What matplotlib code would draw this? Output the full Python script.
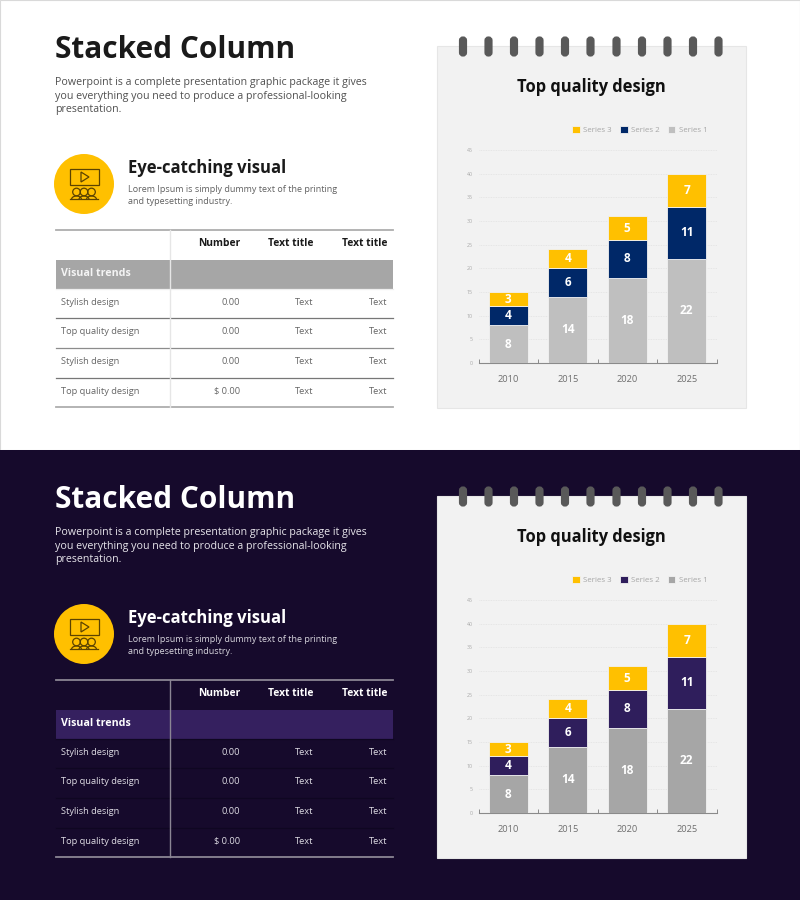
import matplotlib
matplotlib.use("Agg")
import matplotlib.pyplot as plt
from matplotlib.patches import Rectangle, Circle, FancyBboxPatch, Polygon, Arc

plt.rcParams["font.family"] = ["Open Sans", "DejaVu Sans"]

years = ["2010", "2015", "2020", "2025"]
series1 = [8, 14, 18, 22]
series2 = [4, 6, 8, 11]
series3 = [3, 4, 5, 7]
yTicks = [0, 5, 10, 15, 20, 25, 30, 35, 40, 45]

tableHeaders = ["Number", "Text title", "Text title"]
rowNames = ["Stylish design", "Top quality design", "Stylish design", "Top quality design"]
rowNumbers = ["0.00", "0.00", "0.00", "$ 0.00"]
rowText = ["Text", "Text", "Text", "Text"]
ringX = [463, 488.5, 514, 539.5, 565, 590.5, 616.5, 642, 667.5, 693, 718.5]

lightTheme = {
    "bg": "#ffffff", "title": "#1a1a1a", "body": "#505050", "small": "#606060",
    "rowText": "#666666", "band": "#a6a6a6", "bandText": "#f4f4f4",
    "outer": "#aeaeae", "inner": ["#eeeeee", "#777777", "#8c8c8c", "#777777"],
    "vline": "#e6e6e6", "colors": ["#bfbfbf", "#002868", "#ffc000"],
}
darkTheme = {
    "bg": "#160a2c", "title": "#ffffff", "body": "#e6e4ea", "small": "#d8d6de",
    "rowText": "#dedce4", "band": "#35205f", "bandText": "#ffffff",
    "outer": "#8b8694", "inner": ["#0f0722", "#0f0722", "#0f0722", "#0f0722"],
    "vline": "#8b8694", "colors": ["#a6a6a6", "#2f1e5c", "#ffc000"],
}


def drawIcon(ax, off):
    ink = "#5c4300"
    ax.add_patch(Circle((84, 184 + off), 30, fc="#ffc000", ec="none"))
    ax.add_patch(Rectangle((69.5, 169 + off), 29, 16, fc="none", ec=ink, lw=0.9))
    ax.add_patch(Polygon([(81, 172 + off), (81, 182 + off), (89, 177 + off)], fc="none", ec=ink, lw=0.9))
    for cx in [76.5, 84, 91.5]:
        ax.add_patch(Circle((cx, 192 + off), 3.8, fc="none", ec=ink, lw=0.9))
        ax.add_patch(Arc((cx, 199.5 + off), 10, 7, theta1=180, theta2=360, ec=ink, lw=0.9))
    ax.plot([70, 98], [198.5 + off, 198.5 + off], color=ink, lw=0.9)


def drawTable(ax, off, th):
    ax.add_patch(Rectangle((56, 259.5 + off), 337, 29, fc=th["band"], ec="none"))
    ax.plot([56, 393], [230 + off, 230 + off], color=th["outer"], lw=1.3)
    ax.plot([56, 393], [407 + off, 407 + off], color=th["outer"], lw=1.3)
    lineY = [288.5, 318, 347.5, 377.5]
    for yy, col in zip(lineY, th["inner"]):
        ax.plot([56, 393], [yy + off, yy + off], color=col, lw=0.9)
    ax.plot([170, 170], [230 + off, 407 + off], color=th["vline"], lw=1.0)

    headX = [240, 313, 388]
    for hx, label in zip(headX, tableHeaders):
        ax.text(hx, 243.5 + off, label, ha="right", va="center", fontsize=7.4, fontweight="bold", color=th["title"])
    ax.text(61, 273 + off, "Visual trends", ha="left", va="center", fontsize=7.7, fontweight="bold", color=th["bandText"])

    rowY = [302.5, 332, 361.5, 391.5]
    for yy, name, num, txt in zip(rowY, rowNames, rowNumbers, rowText):
        ax.text(61, yy + off, name, ha="left", va="center", fontsize=6.7, color=th["rowText"])
        ax.text(240, yy + off, num, ha="right", va="center", fontsize=6.7, color=th["rowText"])
        ax.text(313, yy + off, txt, ha="right", va="center", fontsize=6.7, color=th["rowText"])
        ax.text(387, yy + off, txt, ha="right", va="center", fontsize=6.7, color=th["rowText"])


def drawChart(fig, off, th):
    figW, figH = 800, 900
    chartAx = fig.add_axes([478.5 / figW, 1 - (363 + off) / figH, 238 / figW, 213 / figH])
    chartAx.set_facecolor("none")
    xs = list(range(len(years)))
    c1, c2, c3 = th["colors"]
    base2 = series1
    base3 = [a + b for a, b in zip(series1, series2)]
    bars1 = chartAx.bar(xs, series1, width=0.655, color=c1, edgecolor="#f2f2f2", linewidth=0.6, label="Series 1", zorder=3)
    bars2 = chartAx.bar(xs, series2, bottom=base2, width=0.655, color=c2, edgecolor="#f2f2f2", linewidth=0.6, label="Series 2", zorder=3)
    bars3 = chartAx.bar(xs, series3, bottom=base3, width=0.655, color=c3, edgecolor="#f2f2f2", linewidth=0.6, label="Series 3", zorder=3)
    for bars, vals in [(bars1, series1), (bars2, series2), (bars3, series3)]:
        chartAx.bar_label(bars, labels=[str(v) for v in vals], label_type="center",
                          color="white", fontsize=8.5, fontweight="bold", zorder=4)

    chartAx.set_xlim(-0.5, 3.5)
    chartAx.set_ylim(0, 45)
    chartAx.set_yticks(yTicks)
    chartAx.set_xticks(xs)
    chartAx.set_xticklabels(years)
    chartAx.set_xticks([-0.5, 0.5, 1.5, 2.5, 3.5], minor=True)
    chartAx.tick_params(axis="x", which="major", length=0, pad=8.5, labelsize=6.7, labelcolor="#6e6e6e")
    chartAx.tick_params(axis="x", which="minor", direction="in", length=3, width=0.7, color="#8a8a8a")
    chartAx.tick_params(axis="y", length=0, pad=4, labelsize=3.8, labelcolor="#a8a8a8")
    chartAx.grid(axis="y", color="#e2e2e2", lw=0.6, ls=(0, (1, 1)), zorder=0)
    chartAx.set_axisbelow(True)
    for name in ["top", "right", "left"]:
        chartAx.spines[name].set_visible(False)
    chartAx.spines["bottom"].set_color("#8a8a8a")
    chartAx.spines["bottom"].set_linewidth(0.8)

    handles = [bars3, bars2, bars1]
    chartAx.legend(handles, ["Series 3", "Series 2", "Series 1"], ncol=3, frameon=False,
                   loc="center right", bbox_to_anchor=(0.962, 1.094), fontsize=5.7,
                   labelcolor="#a6a6a6", handlelength=0.95, handleheight=0.95,
                   handletextpad=0.45, columnspacing=1.0, borderpad=0, borderaxespad=0)


def drawSection(fig, ax, off, th):
    ax.add_patch(Rectangle((0, off), 800, 450, fc=th["bg"], ec="#d9d9d9" if off == 0 else "none", lw=0.8))
    ax.text(55, 49.5 + off, "Stacked Column", ha="left", va="center", fontsize=21.4, fontweight="bold", color=th["title"])
    bodyLines = ["Powerpoint is a complete presentation graphic package it gives",
                 "you everything you need to produce a professional-looking",
                 "presentation."]
    for i, line in enumerate(bodyLines):
        ax.text(55, 82.5 + i * 13.5 + off, line, ha="left", va="center", fontsize=7.7, color=th["body"])

    drawIcon(ax, off)
    ax.text(127.5, 168 + off, "Eye-catching visual", ha="left", va="center", fontsize=12, fontweight="bold", color=th["title"])
    ax.text(127.5, 189.5 + off, "Lorem Ipsum is simply dummy text of the printing", ha="left", va="center", fontsize=6.5, color=th["small"])
    ax.text(127.5, 202 + off, "and typesetting industry.", ha="left", va="center", fontsize=6.5, color=th["small"])
    drawTable(ax, off, th)

    ax.add_patch(Rectangle((437, 45.5 + off), 309, 362, fc="#f2f2f2", ec="#e6e6e6", lw=0.8))
    for rx in ringX:
        ax.add_patch(FancyBboxPatch((rx - 2, 38.5 + off), 4, 16, boxstyle="round,pad=0,rounding_size=2",
                                    mutation_aspect=1, fc="#595959", ec="#595959", lw=3, zorder=5))
    ax.text(591, 87.5 + off, "Top quality design", ha="center", va="center", fontsize=11.9, fontweight="bold", color="#111111")
    drawChart(fig, off, th)


def main():
    fig = plt.figure(figsize=(8, 9), dpi=100)
    pageAx = fig.add_axes([0, 0, 1, 1])
    pageAx.set_xlim(0, 800)
    pageAx.set_ylim(900, 0)
    pageAx.axis("off")
    drawSection(fig, pageAx, 0, lightTheme)
    drawSection(fig, pageAx, 450, darkTheme)
    fig.savefig("out.png", dpi=100)


if __name__ == '__main__':
    main()
